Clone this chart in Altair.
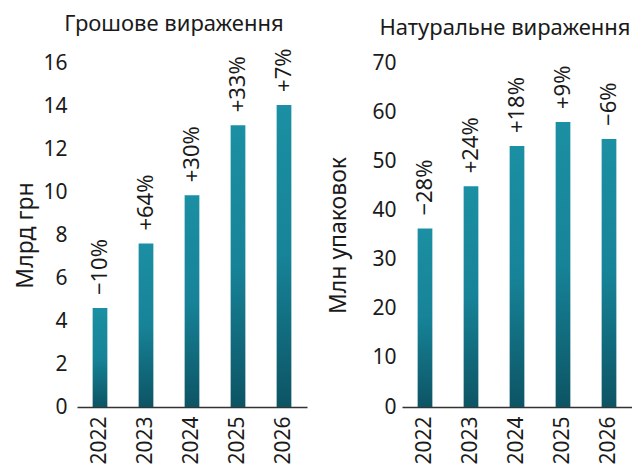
import altair as alt
import pandas as pd

years = ["2022", "2023", "2024", "2025", "2026"]
money_values = [4.6, 7.6, 9.85, 13.1, 14.05]
money_labels = ["−10%", "+64%", "+30%", "+33%", "+7%"]
unit_values = [36.3, 44.9, 53.1, 58.0, 54.55]
unit_labels = ["−28%", "+24%", "+18%", "+9%", "−6%"]

FONT = "Noto Sans"
TXT = "#1a1a1a"

gradient = alt.Gradient(
    gradient="linear",
    stops=[
        alt.GradientStop(color="#1b8fa3", offset=0),
        alt.GradientStop(color="#178398", offset=0.5),
        alt.GradientStop(color="#0c5464", offset=1),
    ],
    x1=0, x2=0, y1=0, y2=1,
)


def panel(vals, labels, ymax, step, ytitle, title, label_pad, title_pad, dx):
    df = pd.DataFrame({"year": years, "value": vals, "label": labels})
    x = alt.X(
        "year:N",
        sort=years,
        scale=alt.Scale(paddingInner=0.68, paddingOuter=0.34),
        axis=alt.Axis(
            title=None, labelAngle=-90, ticks=False, domainColor="#333333",
            domainWidth=1.5, labelPadding=9, labelFontSize=21, labelColor=TXT,
            labelFont=FONT,
        ),
    )
    y = alt.Y(
        "value:Q",
        scale=alt.Scale(domain=[0, ymax], nice=False),
        axis=alt.Axis(
            values=list(range(0, ymax + 1, step)), grid=False, ticks=False,
            domain=False, title=ytitle, titleFontSize=23, titleFontWeight="normal",
            titleFont=FONT, titleColor=TXT, titlePadding=title_pad,
            labelFontSize=21, labelFont=FONT, labelColor=TXT, labelPadding=label_pad,
        ),
    )
    base = alt.Chart(df)
    bars = base.mark_bar(color=gradient).encode(x=x, y=y)
    text = base.mark_text(
        angle=270, align="left", baseline="middle", dx=13, fontSize=22,
        font=FONT, color=TXT,
    ).encode(x=x, y="value:Q", text="label:N")
    return alt.layer(bars, text).properties(
        width=230,
        height=344,
        title=alt.TitleParams(
            text=title, fontSize=22, fontWeight="normal", font=FONT, color=TXT,
            frame="group", anchor="middle", dx=dx, offset=12,
        ),
    )


left = panel(money_values, money_labels, 16, 2, "Млрд грн", "Грошове вираження", 10, 5, -18)
right = panel(unit_values, unit_labels, 70, 10, "Млн упаковок", "Натуральне вираження", 6, 21, -12)

chart = alt.hconcat(left, right, spacing=20).properties(
    padding={"left": 6, "top": 5, "right": 0, "bottom": 0}
).configure_view(stroke=None)

chart.save("out.html", embed_options={"renderer": "svg", "actions": False})
